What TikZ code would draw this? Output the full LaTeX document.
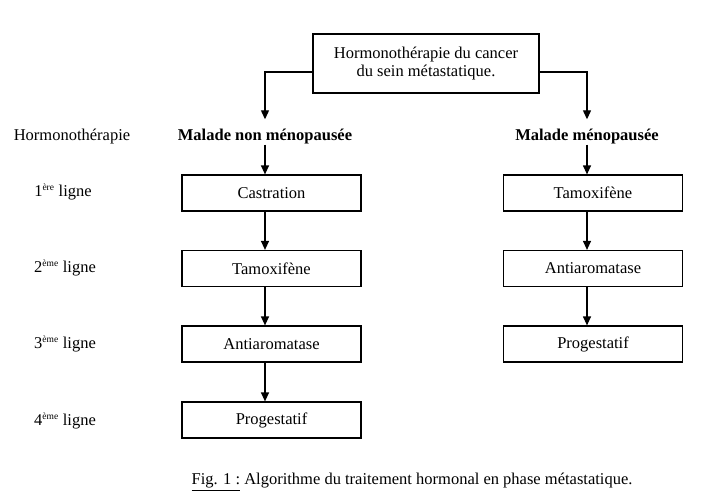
\documentclass[tikz,border=0pt]{standalone}
\usepackage{fontspec}
\setmainfont{Liberation Serif}
\usetikzlibrary{arrows.meta}
\newcommand{\supx}[1]{\textsuperscript{\fontsize{9.5}{10}\selectfont #1}}
\begin{document}
\begin{tikzpicture}[x=1pt,y=-1pt,
  font=\fontsize{16.5}{18}\selectfont,
  box/.style={draw,line width=1.2pt,minimum width=179pt,minimum height=36pt,inner sep=0pt},
  topbox/.style={draw,line width=1.2pt,minimum width=226pt,minimum height=59pt,inner sep=0pt,align=center},
  head/.style={font=\fontsize{16.5}{18}\selectfont\bfseries,inner sep=0pt,text height=11pt,text depth=4pt},
  lab/.style={inner sep=0pt},
  arr/.style={line width=1.2pt,-{Triangle[width=8pt,length=9pt]}}]
\useasboundingbox[fill=white] (0,0) rectangle (709,500);
\node[topbox] (top) at (426,63.5) {Hormonothérapie du cancer\\du sein métastatique.};
\node[head] (mnp) at (265,137) {Malade non ménopausée};
\node[head] (mp) at (587,137) {Malade ménopausée};
\node[lab] (h) at (72,137) {Hormonothérapie};
\node[lab] (l1) at (63,192) {1\supx{ère} ligne};
\node[lab] (l2) at (65,268) {2\supx{ème} ligne};
\node[lab] (l3) at (65,344) {3\supx{ème} ligne};
\node[lab] (l4) at (65,421) {4\supx{ème} ligne};
\node[box] (b1) at (271.5,193) {Castration};
\node[box] (b2) at (271.5,268.5) {Tamoxifène};
\node[box] (b3) at (271.5,344) {Antiaromatase};
\node[box] (b4) at (271.5,420) {Progestatif};
\node[box] (r1) at (593,193) {Tamoxifène};
\node[box] (r2) at (593,268.5) {Antiaromatase};
\node[box] (r3) at (593,344) {Progestatif};
\draw[arr] ([yshift=-8.5pt]top.west) -| ([yshift=10pt]mnp.north);
\draw[arr] ([yshift=-8.5pt]top.east) -| ([yshift=10pt]mp.north);
\draw[arr] (mnp.south) -- (mnp.south |- b1.north);
\draw[arr] (mnp.south |- b1.south) -- (mnp.south |- b2.north);
\draw[arr] (mnp.south |- b2.south) -- (mnp.south |- b3.north);
\draw[arr] (mnp.south |- b3.south) -- (mnp.south |- b4.north);
\draw[arr] (mp.south) -- (mp.south |- r1.north);
\draw[arr] (mp.south |- r1.south) -- (mp.south |- r2.north);
\draw[arr] (mp.south |- r2.south) -- (mp.south |- r3.north);
\node[lab] (cap) at (412,482) {\underline{Fig. 1 :} Algorithme du traitement hormonal en phase métastatique.};
\end{tikzpicture}
\end{document}
